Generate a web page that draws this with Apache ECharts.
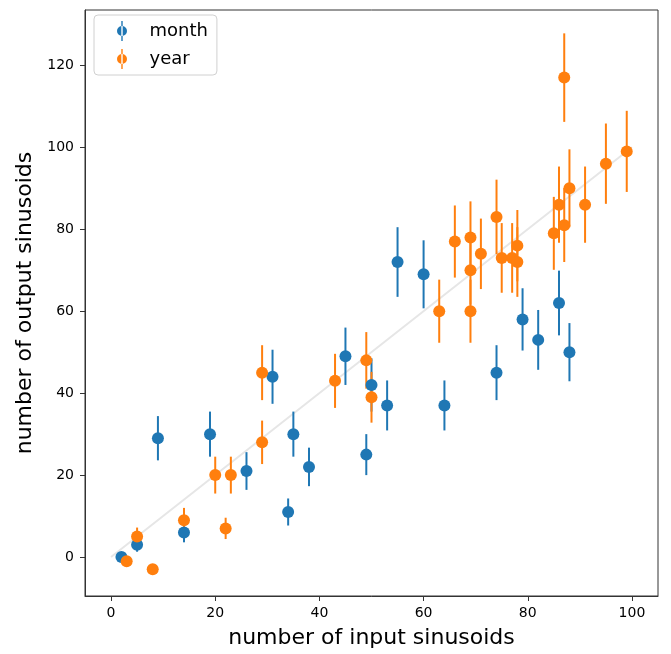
<!DOCTYPE html>
<html>
<head>
<meta charset="utf-8">
<script src="https://cdn.jsdelivr.net/npm/echarts@6/dist/echarts.min.js"></script>
<style>
  html, body { margin: 0; padding: 0; background: #fff; }
  #chart { width: 671px; height: 654px; }
</style>
</head>
<body>
<div id="chart"></div>
<script>
// month series
var monthX = [2, 5, 9, 14, 19, 26, 31, 34, 35, 38, 45, 49, 50, 53, 55, 60, 64, 74, 79, 82, 86, 88];
var monthY = [0, 3, 29, 6, 30, 21, 44, 11, 30, 22, 49, 25, 42, 37, 72, 69, 37, 45, 58, 53, 62, 50];
var monthErr = [0, 1.7, 5.4, 2.4, 5.5, 4.6, 6.6, 3.3, 5.5, 4.7, 7.0, 5.0, 6.5, 6.1, 8.5, 8.3, 6.1, 6.7, 7.6, 7.3, 7.9, 7.1];

// year series
var yearX = [3, 5, 8, 14, 20, 22, 23, 29, 29, 43, 49, 50, 63, 66, 69, 69, 69, 71, 74, 75, 77, 78, 78, 85, 86, 87, 87, 88, 91, 95, 99];
var yearY = [-1, 5, -3, 9, 20, 7, 20, 45, 28, 43, 48, 39, 60, 77, 78, 70, 60, 74, 83, 73, 73, 76, 72, 79, 86, 81, 117, 90, 86, 96, 99];
var yearErr = [0, 2.2, 0, 3.0, 4.5, 2.6, 4.5, 6.7, 5.3, 6.6, 6.9, 6.2, 7.7, 8.8, 8.8, 8.4, 7.7, 8.6, 9.1, 8.5, 8.5, 8.7, 8.5, 8.9, 9.3, 9.0, 10.8, 9.5, 9.3, 9.8, 9.9];

var xTicks = [0, 20, 40, 60, 80, 100];
var yTicks = [0, 20, 40, 60, 80, 100, 120];
var refLine = [[0, 0], [100, 100]];

var blue = '#1f77b4', orange = '#ff7f0e';
var font = 'DejaVu Sans';

function zip3(a, b, c) {
  return a.map(function (v, i) { return [v, b[i], c[i]]; });
}
function zip2(a, b) {
  return a.map(function (v, i) { return [v, b[i]]; });
}

function errBars(color) {
  return function (params, api) {
    var x = api.value(0), y = api.value(1), e = api.value(2);
    if (!e) return null;
    var p1 = api.coord([x, y - e]);
    var p2 = api.coord([x, y + e]);
    return {
      type: 'line',
      shape: { x1: p1[0], y1: p1[1], x2: p2[0], y2: p2[1] },
      style: { stroke: color, lineWidth: 2 }
    };
  };
}

var icon = 'path://M4.3,0h1.4v20h-1.4z M0,10a5,5 0 1,0 10,0a5,5 0 1,0 -10,0z';

var chart = echarts.init(document.getElementById('chart'));
chart.setOption({
  animation: false,
  grid: { left: 85, right: 13, top: 10, bottom: 56, show: true, borderColor: '#333', borderWidth: 1 },
  legend: {
    left: 94, top: 15,
    orient: 'vertical',
    data: [{ name: 'month', icon: icon }, { name: 'year', icon: icon }],
    itemWidth: 11, itemHeight: 20, itemGap: 8,
    padding: [6, 9, 6, 23],
    backgroundColor: '#fff',
    borderColor: '#d0d0d0', borderWidth: 1, borderRadius: 4,
    textStyle: { fontFamily: font, fontSize: 18, color: '#000', padding: [0, 0, 0, 17] }
  },
  xAxis: {
    type: 'value', min: -5, max: 105,
    name: 'number of input sinusoids', nameLocation: 'middle', nameGap: 31,
    nameTextStyle: { fontFamily: font, fontSize: 22, color: '#000' },
    splitLine: { show: false },
    axisLine: { onZero: false, lineStyle: { color: '#333' } },
    axisTick: { customValues: xTicks, length: 5, lineStyle: { color: '#333' } },
    axisLabel: { customValues: xTicks, fontFamily: font, fontSize: 14, color: '#000', margin: 10 }
  },
  yAxis: {
    type: 'value', min: -9.5, max: 133.5,
    name: 'number of output sinusoids', nameLocation: 'middle', nameGap: 49,
    nameTextStyle: { fontFamily: font, fontSize: 22, color: '#000' },
    splitLine: { show: false },
    axisLine: { show: true, onZero: false, lineStyle: { color: '#333' } },
    axisTick: { show: true, customValues: yTicks, length: 5, lineStyle: { color: '#333' } },
    axisLabel: { customValues: yTicks, fontFamily: font, fontSize: 14, color: '#000', margin: 11 }
  },
  series: [
    {
      type: 'line', data: refLine, symbol: 'none', silent: true, z: 0,
      lineStyle: { color: '#e6e6e6', width: 2 }
    },
    {
      name: 'month', type: 'custom', data: zip3(monthX, monthY, monthErr),
      encode: { x: 0, y: 1 }, renderItem: errBars(blue), itemStyle: { color: blue }
    },
    {
      name: 'month', type: 'scatter', data: zip2(monthX, monthY),
      symbolSize: 12, itemStyle: { color: blue, opacity: 1 }
    },
    {
      name: 'year', type: 'custom', data: zip3(yearX, yearY, yearErr),
      encode: { x: 0, y: 1 }, renderItem: errBars(orange), itemStyle: { color: orange }
    },
    {
      name: 'year', type: 'scatter', data: zip2(yearX, yearY),
      symbolSize: 12, itemStyle: { color: orange, opacity: 1 }
    }
  ]
});
</script>
</body>
</html>
